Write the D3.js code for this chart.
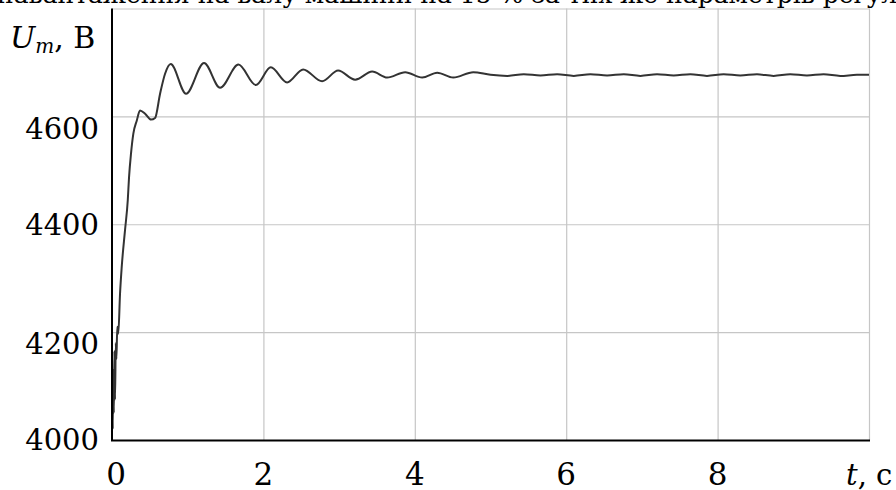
<!DOCTYPE html>
<html>
<head>
<meta charset="utf-8">
<script src="https://cdnjs.cloudflare.com/ajax/libs/d3/7.8.5/d3.min.js"></script>
<style>
  body { margin: 0; background: #fff; }
</style>
</head>
<body>
<div id="chart"></div>
<script>
const width = 896,
      height = 490;

// caption line cut off by the top of the picture
const captionText = 'навантаження на валу машини на 15 % за тих же параметрів регулятора';

// time, s
const timeValues = [
  0.000, 0.004, 0.010, 0.016, 0.024, 0.032, 0.040, 0.050, 0.058, 0.070,
  0.083, 0.106, 0.128, 0.172, 0.208, 0.225, 0.251, 0.282, 0.327, 0.370,
  0.437, 0.516, 0.569, 0.635, 0.701, 0.776, 0.978, 1.216, 1.428, 1.670,
  1.900, 2.098, 2.313, 2.525, 2.776, 2.987, 3.212, 3.437, 3.635, 3.873,
  4.098, 4.296, 4.508, 4.772, 5.00, 5.22, 5.44, 5.66, 5.88, 6.10,
  6.32, 6.54, 6.76, 6.98, 7.20, 7.42, 7.64, 7.86, 8.08, 8.30,
  8.52, 8.74, 8.96, 9.18, 9.40, 9.62, 9.84, 10.00
];
// stator voltage amplitude U_m, V
const voltageValues = [
  4015, 4125, 4020, 4130, 4050, 4165, 4075, 4180, 4150, 4210,
  4197, 4271, 4320, 4389, 4444, 4487, 4531, 4568, 4592, 4611,
  4605, 4594, 4597, 4642, 4679, 4697, 4642, 4699, 4653, 4696,
  4658, 4691, 4663, 4687, 4665, 4685, 4668, 4683, 4672, 4682,
  4672, 4681, 4672, 4682, 4677, 4675, 4678, 4676, 4678, 4675,
  4678, 4676, 4678, 4675, 4678, 4676, 4678, 4675, 4678, 4676,
  4678, 4675, 4678, 4676, 4678, 4675, 4677, 4677
];

const xTicks = [0, 2, 4, 6, 8];
const xGrid = [2, 4, 6, 8, 10];
const yTicks = [4000, 4200, 4400, 4600];
const yGrid = [4200, 4400, 4600, 4800];

const data = timeValues.map((t, i) => ({t: t, u: voltageValues[i]}));

const svg = d3.select('#chart').append('svg')
    .attr('width', width)
    .attr('height', height)
    .style('font-family', "'DejaVu Serif', serif")
    .style('display', 'block');

const x = d3.scaleLinear()
    .domain([0, 10])
    .range([112, 869]);

const y = d3.scaleLinear()
    .domain([4000, 4800])
    .range([440, 8.5]);

// caption (only the lower part of the glyphs shows)
svg.append('text')
    .attr('x', -3)
    .attr('y', 3)
    .attr('font-size', '25px')
    .attr('fill', '#000')
    .text(captionText);

// grid
svg.append('g')
  .selectAll('line')
  .data(xGrid)
  .join('line')
    .attr('x1', d => x(d) + 0.5)
    .attr('x2', d => x(d) + 0.5)
    .attr('y1', y(4800))
    .attr('y2', y(4000))
    .attr('stroke', '#c6c6c6')
    .attr('stroke-width', 1.2);

svg.append('g')
  .selectAll('line')
  .data(yGrid)
  .join('line')
    .attr('x1', x(0))
    .attr('x2', x(10) + 1)
    .attr('y1', d => y(d) + 0.5)
    .attr('y2', d => y(d) + 0.5)
    .attr('stroke', '#c6c6c6')
    .attr('stroke-width', 1.2);

// the curve
const line = d3.line()
    .x(d => x(d.t))
    .y(d => y(d.u))
    .curve(d3.curveMonotoneX);

svg.append('path')
    .datum(data)
    .attr('d', line)
    .attr('fill', 'none')
    .attr('stroke', '#333')
    .attr('stroke-width', 2)
    .attr('stroke-linejoin', 'round');

// axes lines
svg.append('line')
    .attr('x1', x(0))
    .attr('x2', x(0))
    .attr('y1', y(4800))
    .attr('y2', y(4000) + 1)
    .attr('stroke', '#000')
    .attr('stroke-width', 2);

svg.append('line')
    .attr('x1', x(0) - 1)
    .attr('x2', x(10) + 1)
    .attr('y1', y(4000) + 0.5)
    .attr('y2', y(4000) + 0.5)
    .attr('stroke', '#000')
    .attr('stroke-width', 2);

// tick labels
const yLabelShift = {4000: 0, 4200: 11, 4400: 0, 4600: 12};

svg.append('g')
  .selectAll('text')
  .data(yTicks)
  .join('text')
    .attr('x', 99)
    .attr('y', d => y(d) + yLabelShift[d])
    .attr('dy', '0.36em')
    .attr('text-anchor', 'end')
    .attr('font-size', '29px')
    .text(d => d);

svg.append('g')
  .selectAll('text')
  .data(xTicks)
  .join('text')
    .attr('x', d => x(d) + (d == 0 ? 4 : 0))
    .attr('y', 485)
    .attr('text-anchor', 'middle')
    .attr('font-size', '31px')
    .text(d => d);

// axis titles
const yTitle = svg.append('text')
    .attr('x', 10)
    .attr('y', 48)
    .attr('font-size', '30px');
yTitle.append('tspan').attr('font-style', 'italic').text('U');
yTitle.append('tspan').attr('font-style', 'italic').attr('font-size', '20px').attr('dy', 5).text('m');
yTitle.append('tspan').attr('dy', -5).text(', В');

const xTitle = svg.append('text')
    .attr('x', 846)
    .attr('y', 485)
    .attr('font-size', '29px');
xTitle.append('tspan').attr('font-style', 'italic').text('t');
xTitle.append('tspan').text(', с');
</script>
</body>
</html>
